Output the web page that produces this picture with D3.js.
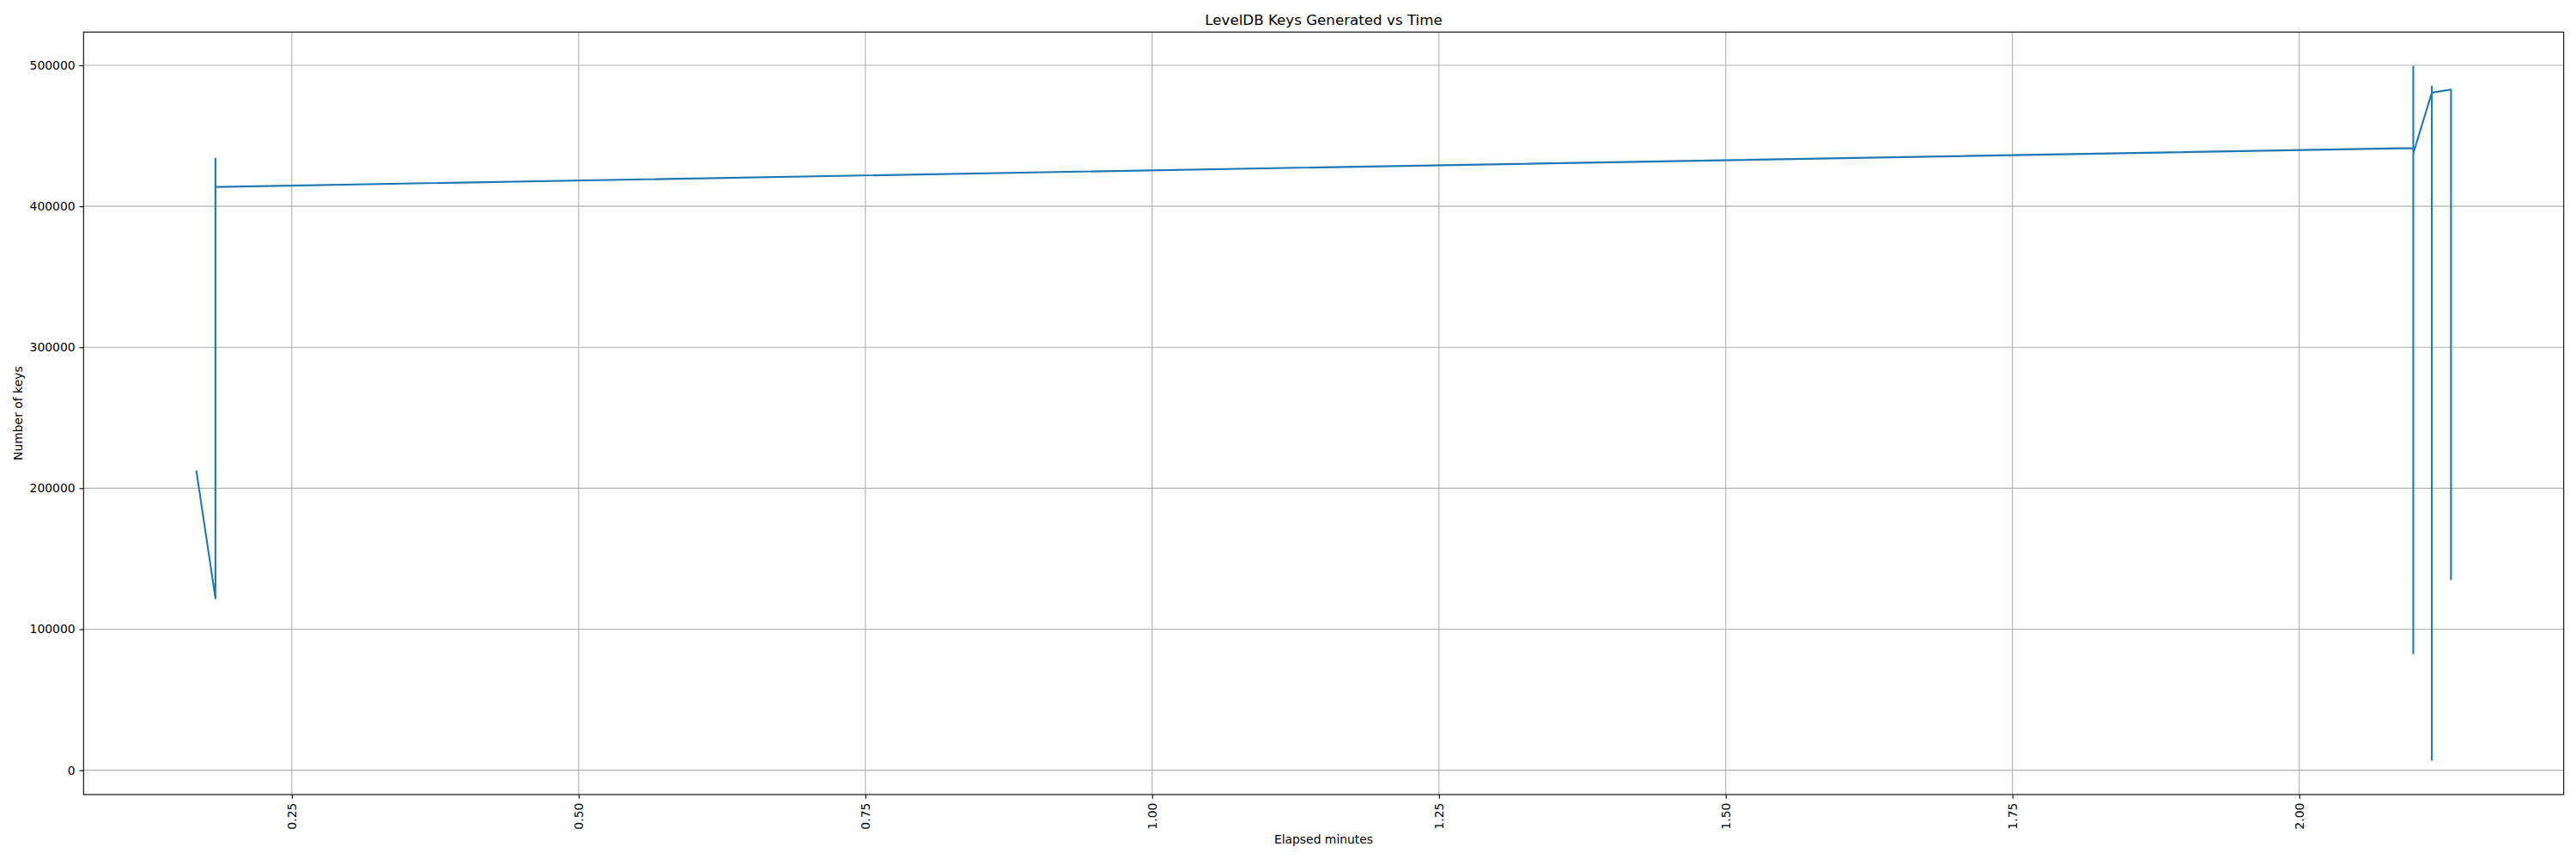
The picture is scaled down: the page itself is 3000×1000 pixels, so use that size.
<!DOCTYPE html>
<html>
<head>
<meta charset="utf-8">
<script src="https://cdn.jsdelivr.net/npm/d3@7"></script>
<style>
  html, body { margin: 0; padding: 0; background: #fff; }
  text { font-family: "DejaVu Sans", sans-serif; fill: #000; }
</style>
</head>
<body>
<svg id="chart" width="3000" height="1000"></svg>
<script>
// Data
const elapsedMinutes = [0.1667, 0.1834, 0.1834, 0.1834, 2.0994, 2.0994, 2.0994, 2.0994, 2.1156, 2.1156, 2.1156, 2.1156, 2.1323, 2.1323];
const keyCounts      = [212600, 121900, 433800, 413700, 441300, 499000, 82800, 437400, 480600, 485100, 7300, 480600, 482800, 134900];
const xTickValues = [0.25, 0.50, 0.75, 1.00, 1.25, 1.50, 1.75, 2.00];
const yTickValues = [0, 100000, 200000, 300000, 400000, 500000];
const titleText = "LevelDB Keys Generated vs Time";
const xLabelText = "Elapsed minutes";
const yLabelText = "Number of keys";

const svg = d3.select("#chart");
const plot = { left: 97.3, right: 2985.7, top: 37.3, bottom: 925 };

// matplotlib-style 5% margins
function padded(ext) {
  const m = (ext[1] - ext[0]) * 0.05;
  return [ext[0] - m, ext[1] + m];
}
const x = d3.scaleLinear().domain(padded(d3.extent(elapsedMinutes))).range([plot.left, plot.right]);
const y = d3.scaleLinear().domain(padded(d3.extent(keyCounts))).range([plot.bottom, plot.top]);

const gridColor = "#b0b0b0";
const gridW = 1.1;

// Grid
const grid = svg.append("g");
grid.selectAll(".gx").data(xTickValues).enter().append("line")
  .attr("x1", d => x(d)).attr("x2", d => x(d))
  .attr("y1", plot.top).attr("y2", plot.bottom)
  .attr("stroke", gridColor).attr("stroke-width", gridW);
grid.selectAll(".gy").data(yTickValues).enter().append("line")
  .attr("y1", d => y(d)).attr("y2", d => y(d))
  .attr("x1", plot.left).attr("x2", plot.right)
  .attr("stroke", gridColor).attr("stroke-width", gridW);

// Line
const pts = elapsedMinutes.map((t, i) => [t, keyCounts[i]]);
const line = d3.line().x(d => x(d[0])).y(d => y(d[1]));
svg.append("path").datum(pts)
  .attr("d", line)
  .attr("fill", "none")
  .attr("stroke", "#1f77b4")
  .attr("stroke-width", 2.08)
  .attr("stroke-linejoin", "round")
  .attr("stroke-linecap", "butt");

// Axes
const xAxis = d3.axisBottom(x).tickValues(xTickValues).tickFormat(d3.format(".2f")).tickSize(4.86).tickPadding(4.86).tickSizeOuter(0);
const yAxis = d3.axisLeft(y).tickValues(yTickValues).tickFormat(d3.format("d")).tickSize(4.86).tickPadding(4.86).tickSizeOuter(0);

const gx = svg.append("g").attr("transform", `translate(0,${plot.bottom})`).call(xAxis);
gx.select(".domain").remove();
gx.selectAll(".tick line").attr("stroke", "#000").attr("stroke-width", 1.1);
gx.selectAll(".tick text")
  .attr("font-size", "13.9px")
  .attr("font-family", "DejaVu Sans")
  .attr("transform", "rotate(-90)")
  .attr("x", -9.7)
  .attr("y", 0)
  .attr("dy", "0.32em")
  .attr("text-anchor", "end");

const gy = svg.append("g").attr("transform", `translate(${plot.left},0)`).call(yAxis);
gy.select(".domain").remove();
gy.selectAll(".tick line").attr("stroke", "#000").attr("stroke-width", 1.1);
gy.selectAll(".tick text").attr("font-size", "13.9px").attr("font-family", "DejaVu Sans");

// Spines
svg.append("rect")
  .attr("x", plot.left).attr("y", plot.top)
  .attr("width", plot.right - plot.left).attr("height", plot.bottom - plot.top)
  .attr("fill", "none").attr("stroke", "#000").attr("stroke-width", 1.1);

// Title and labels
const cx = (plot.left + plot.right) / 2;
svg.append("text").attr("x", cx).attr("y", 29.3)
  .attr("text-anchor", "middle").attr("font-size", "16.7px").text(titleText);
svg.append("text").attr("x", cx).attr("y", 981.7)
  .attr("text-anchor", "middle").attr("font-size", "13.9px").text(xLabelText);
svg.append("text")
  .attr("transform", `translate(26.2,${(plot.top + plot.bottom) / 2}) rotate(-90)`)
  .attr("text-anchor", "middle").attr("font-size", "13.9px").text(yLabelText);
</script>
</body>
</html>
